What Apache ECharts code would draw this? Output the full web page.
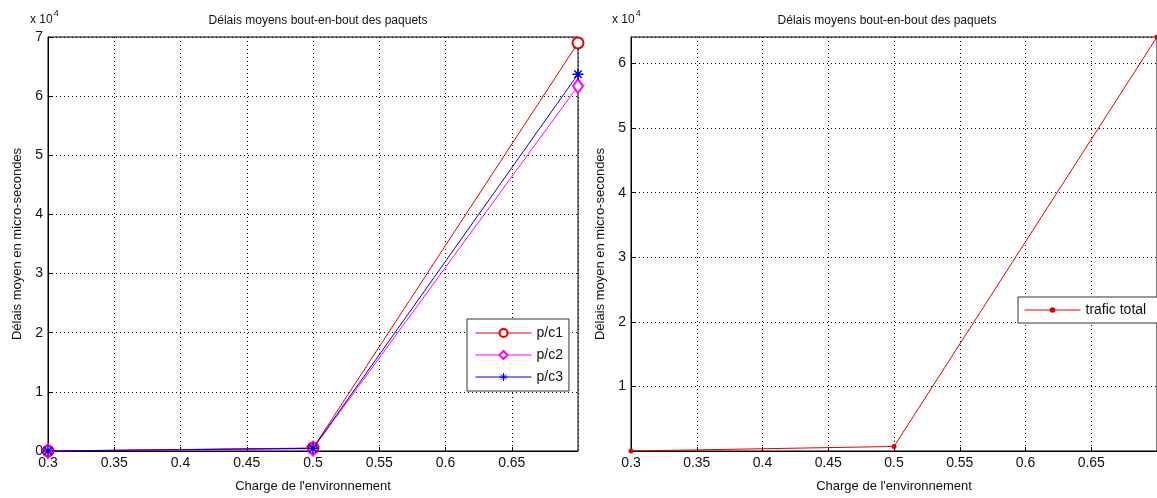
<!DOCTYPE html>
<html>
<head>
<meta charset="utf-8">
<script src="https://cdn.jsdelivr.net/npm/echarts@6/dist/echarts.min.js"></script>
<style>
  html, body { margin: 0; padding: 0; background: #fff; }
  #chart { width: 1157px; height: 498px; }
</style>
</head>
<body>
<div id="chart"></div>
<script>
// charge de l'environnement
const charges = [0.3, 0.5, 0.7]
// délais moyens (micro-secondes), graphe de gauche
const pc1 = [0, 500, 69000]
const pc2 = [0, 400, 61700]
const pc3 = [0, 450, 63700]
// graphe de droite
const traficTotal = [0, 700, 64100]
const xTicks = ['0.3', '0.35', '0.4', '0.45', '0.5', '0.55', '0.6', '0.65']

const font = 'Liberation Sans, Arial, sans-serif'
const titre = 'Délais moyens bout-en-bout des paquets'
const nomX = "Charge de l'environnement"
const nomY = 'Délais moyen en micro-secondes'

const chart = echarts.init(document.getElementById('chart'))

function xAxisDef (gridIndex) {
  return {
    type: 'value', gridIndex, min: 0.3, max: 0.7, interval: 0.05,
    name: nomX, nameLocation: 'middle', nameGap: 29,
    nameTextStyle: { fontFamily: font, fontSize: 13, color: '#111' },
    axisLine: { lineStyle: { color: '#000' } },
    axisTick: { inside: true, length: 4, lineStyle: { color: '#000' } },
    axisLabel: {
      fontFamily: font, fontSize: 14, color: '#111', margin: 5, showMaxLabel: false,
      formatter: v => { const s = String(+v.toFixed(2)); return xTicks.includes(s) ? s : '' }
    },
    splitLine: { show: true, lineStyle: { color: '#000', type: [1, 3], width: 1 } }
  }
}

function yAxisDef (gridIndex, max, showZero) {
  return {
    type: 'value', gridIndex, min: 0, max, interval: 10000,
    name: nomY, nameLocation: 'middle', nameGap: 24,
    nameTextStyle: { fontFamily: font, fontSize: 13, color: '#111' },
    axisLine: { show: true, lineStyle: { color: '#000' } },
    axisTick: { inside: true, length: 4, lineStyle: { color: '#000' } },
    axisLabel: {
      fontFamily: font, fontSize: 14, color: '#111', margin: 5, showMaxLabel: max % 10000 === 0,
      formatter: v => (v === 0 && !showZero) || v % 10000 !== 0 ? '' : String(v / 10000)
    },
    splitLine: { show: true, lineStyle: { color: '#000', type: [1, 3], width: 1 } }
  }
}

const star = 'path://M5,0 L5,10 M0,5 L10,5 M1.6,1.6 L8.4,8.4 M8.4,1.6 L1.6,8.4'
const exposant = { a: { fontFamily: font, fontSize: 12, fill: '#111', padding: [6, 0, 0, 0] }, b: { fontFamily: font, fontSize: 9, fill: '#111', padding: [0, 0, 6, 1] } }
const styleTitre = { fontFamily: font, fontSize: 12, fontWeight: 'normal', color: '#111' }

chart.setOption({
  animation: false,
  backgroundColor: '#fff',
  title: [
    { text: titre, left: 313, top: 10, textAlign: 'center', textStyle: styleTitre },
    { text: titre, left: 882, top: 10, textAlign: 'center', textStyle: styleTitre }
  ],
  graphic: [
    { type: 'text', left: 30, top: 9, style: { text: '{a|x 10}{b|4}', rich: exposant } },
    { type: 'text', left: 612, top: 9, style: { text: '{a|x 10}{b|4}', rich: exposant } }
  ],
  grid: [
    { left: 48, top: 37, width: 530, height: 415, show: true, borderColor: '#000', borderWidth: 1, backgroundColor: '#fff' },
    { left: 631, top: 37, width: 532, height: 415, show: true, borderColor: '#000', borderWidth: 1, backgroundColor: '#fff' }
  ],
  xAxis: [xAxisDef(0), xAxisDef(1)],
  yAxis: [yAxisDef(0, 70000, true), yAxisDef(1, 64100, false)],
  legend: [
    {
      data: ['p/c1', 'p/c2', 'p/c3'], orient: 'vertical', left: 467, top: 319,
      itemWidth: 56, itemHeight: 10, itemGap: 8, padding: [7, 6, 7, 8],
      borderColor: '#333', borderWidth: 1, backgroundColor: '#fff',
      lineStyle: { width: 1 }, itemStyle: { borderWidth: 1 },
      textStyle: { fontFamily: font, fontSize: 14, color: '#111' }
    },
    {
      data: ['trafic total'], orient: 'vertical', left: 1018, top: 297,
      itemWidth: 56, itemHeight: 7, padding: [6, 20, 6, 6],
      borderColor: '#333', borderWidth: 1, backgroundColor: '#fff',
      lineStyle: { width: 1 },
      textStyle: { fontFamily: font, fontSize: 14, color: '#111' }
    }
  ],
  series: [
    {
      name: 'p/c1', type: 'line', xAxisIndex: 0, yAxisIndex: 0,
      data: charges.map((x, i) => [x, pc1[i]]),
      symbol: 'emptyCircle', symbolSize: 11,
      lineStyle: { color: '#e00000', width: 1 },
      itemStyle: { color: '#e00000', borderWidth: 1 }
    },
    {
      name: 'p/c2', type: 'line', xAxisIndex: 0, yAxisIndex: 0,
      data: charges.map((x, i) => [x, pc2[i]]),
      symbol: 'emptyDiamond', symbolSize: [10, 14],
      lineStyle: { color: '#ff00ff', width: 1 },
      itemStyle: { color: '#ff00ff', borderWidth: 1 }
    },
    {
      name: 'p/c3', type: 'line', xAxisIndex: 0, yAxisIndex: 0,
      data: charges.map((x, i) => [x, pc3[i]]),
      symbol: star, symbolSize: 11,
      lineStyle: { color: '#0000cc', width: 1 },
      itemStyle: { color: '#0000cc', borderColor: '#0000cc', borderWidth: 1.5 }
    },
    {
      name: 'trafic total', type: 'line', xAxisIndex: 1, yAxisIndex: 1,
      data: charges.map((x, i) => [x, traficTotal[i]]),
      symbol: 'circle', symbolSize: 5,
      lineStyle: { color: '#e00000', width: 1 },
      itemStyle: { color: '#e00000' }
    }
  ]
})
</script>
</body>
</html>
